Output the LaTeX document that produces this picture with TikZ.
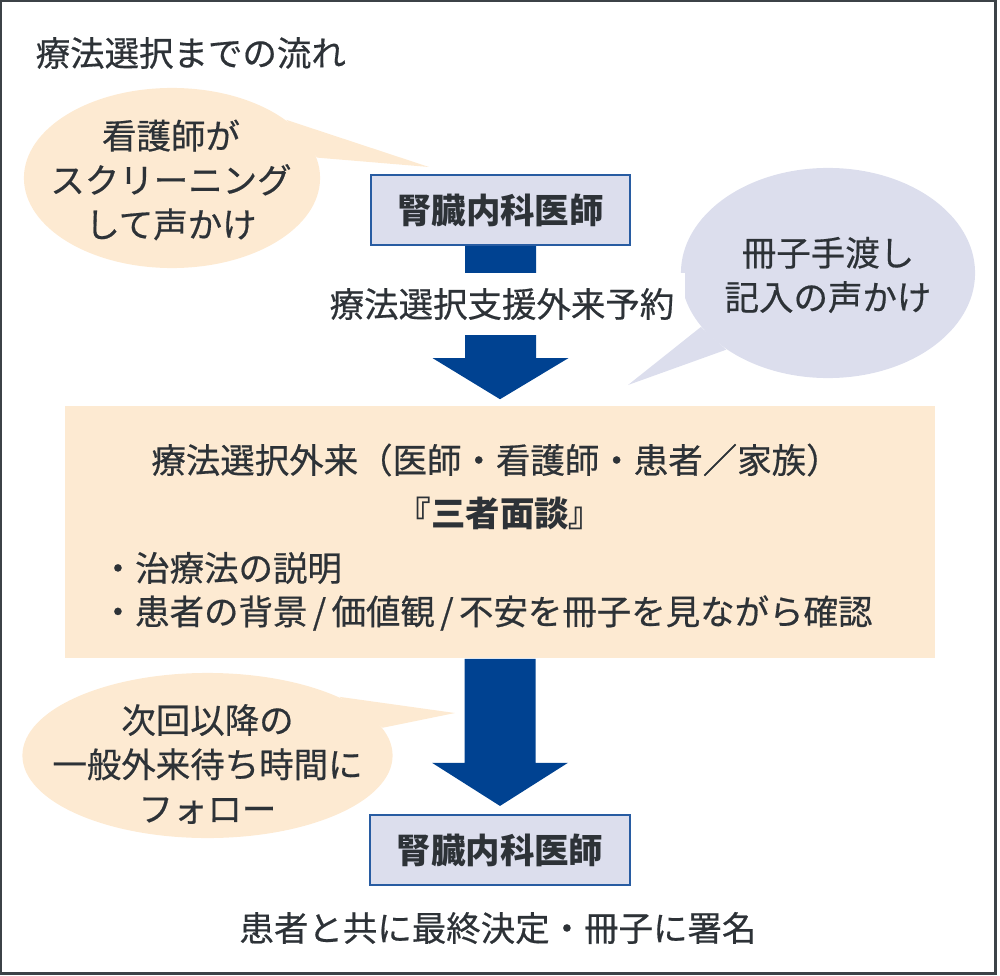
\documentclass[tikz,border=0pt]{standalone}
\usepackage{fontspec}
\setmainfont{Noto Sans CJK JP}[UprightFeatures={FakeBold=0.5}]
\usetikzlibrary{shapes.geometric, calc}

\definecolor{inkgray}{RGB}{45,50,55}
\definecolor{framegray}{RGB}{60,66,71}
\definecolor{flowblue}{RGB}{0,66,145}
\definecolor{boxblue}{RGB}{40,92,162}
\definecolor{lavender}{RGB}{220,222,237}
\definecolor{peach}{RGB}{253,234,210}

\newcommand{\slashsep}{\hspace{1.5pt}/\hspace{1.5pt}}

\begin{document}
\begin{tikzpicture}[x=0.01cm, y=-0.01cm, inner sep=0pt, text=inkgray,
		every node/.style={font=\fontsize{9.8}{12.6}\selectfont},
		doctorbox/.style={draw=boxblue, line width=0.6pt, fill=lavender, minimum width=2.59cm, minimum height=0.70cm, font=\fontsize{9.8}{12.6}\selectfont\bfseries},
		bubble/.style={ellipse},
		blockarrow/.style={fill=flowblue}]
		\useasboundingbox (0, 0) rectangle (1000, 976);
		\draw[framegray, line width=0.8pt] (1, 1) rectangle (995.5, 973.5);

		\node[anchor=west] (title) at (35, 53) {療法選択までの流れ};

		% callouts
		\node[bubble, fill=peach, minimum width=2.96cm, minimum height=1.80cm] (nurse) at (172, 178) {};
		\coordinate (nursetip) at (429, 167);
		\fill[peach] (nurse.27) -- (nursetip) -- (nurse.8) -- cycle;
		\node[align=center] (nursetext) at (171, 180) {看護師が\\スクリーニング\\して声かけ};
		\node[bubble, fill=lavender, minimum width=2.94cm, minimum height=2.10cm] (booklet) at (828, 273) {};
		\coordinate (booklettip) at (628, 385);
		\fill[lavender] (booklet.203) -- (booklettip) -- (booklet.217) -- cycle;
		\node[align=center] (booklettext) at (828, 275) {冊子手渡し\\記入の声かけ};
		\node[bubble, fill=peach, minimum width=3.70cm, minimum height=1.65cm] (follow) at (207.5, 755.5) {};
		\coordinate (followtip) at (455, 713);
		\fill[peach] (follow.24) -- (followtip) -- (follow.9) -- cycle;
		\node[align=center] (followtext) at (207.5, 764) {次回以降の\\一般外来待ち時間に\\フォロー};

		% flow
		\node[doctorbox] (doc1) at (500.5, 210) {腎臓内科医師};
		\node[fill=peach, minimum width=8.70cm, minimum height=2.52cm] (talk) at (500, 532) {};
		\node (talkhead) at (496, 460) {療法選択外来（医師・看護師・患者／家族）};
		\node[font=\fontsize{9.8}{12.6}\selectfont\bfseries] (talkname) at (500, 513) {『三者面談』};
		\node[anchor=west] (point1) at (100, 568) {・治療法の説明};
		\node[anchor=west] (point2) at (100, 613) {・患者の背景\slashsep 価値観\slashsep 不安を冊子を見ながら確認};
		\node[doctorbox] (doc2) at (500, 850) {腎臓内科医師};

		\fill[blockarrow] ($(doc1.south)+(-35.5,0)$) -- ($(doc1.south)+(35.5,0)$) -- ($(doc1.south)+(35.5,112)$) -- ($(doc1.south)+(68,112)$)
			-- ($(talk.north)+(0,-6)$) -- ($(doc1.south)+(-68,112)$) -- ($(doc1.south)+(-35.5,112)$) -- cycle;
		\node[fill=white, minimum height=0.62cm, inner xsep=3pt] (booking) at (502, 304) {療法選択支援外来予約};
		\fill[blockarrow] ($(talk.south)+(-35.5,0)$) -- ($(talk.south)+(35.5,0)$) -- ($(talk.south)+(35.5,104)$) -- ($(talk.south)+(68,104)$)
			-- ($(doc2.north)+(0,-8)$) -- ($(talk.south)+(-68,104)$) -- ($(talk.south)+(-35.5,104)$) -- cycle;

		\node (decision) at (498, 928) {患者と共に最終決定・冊子に署名};
	\end{tikzpicture}
\end{document}
